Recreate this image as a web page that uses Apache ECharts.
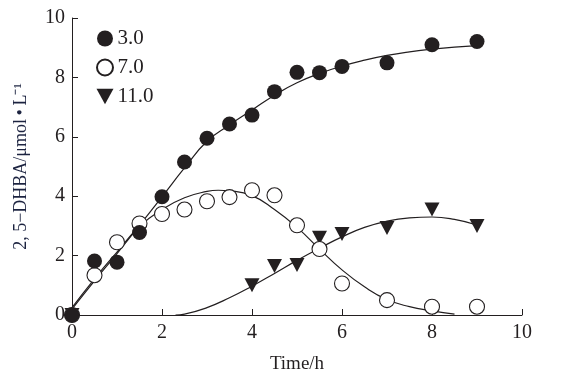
<!DOCTYPE html>
<html>
<head>
<meta charset="utf-8">
<script src="https://cdn.jsdelivr.net/npm/echarts@6/dist/echarts.min.js"></script>
<style>html,body{margin:0;padding:0;background:#fff;}#c{width:570px;height:380px;}</style>
</head>
<body>
<div id="c"></div>
<script>
// Measured data points
const timeH = [0, 0.5, 1, 1.5, 2, 2.5, 3, 3.5, 4, 4.5, 5, 5.5, 6, 7, 8, 9];
const ph3 = [0, 1.82, 1.78, 2.78, 3.98, 5.15, 5.95, 6.43, 6.73, 7.52, 8.17, 8.16, 8.37, 8.49, 9.1, 9.21];
const ph7 = [0, 1.34, 2.45, 3.08, 3.4, 3.55, 3.83, 3.97, 4.2, 4.03, 3.02, 2.22, 1.06, 0.5, 0.28, 0.28];
const timeH11 = [0, 4, 4.5, 5, 5.5, 6, 7, 8, 9];
const ph11 = [0, 1.0, 1.65, 1.68, 2.6, 2.73, 2.93, 3.55, 3.0];

// Fitted curves
const fitT3 = [0, 0.5, 1, 1.5, 2, 2.5, 3, 3.5, 4, 4.5, 5, 5.5, 6, 6.5, 7, 7.5, 8, 8.5, 9];
const fit3 = [0.2, 1.15, 2.07, 3.02, 3.98, 4.95, 5.85, 6.4, 6.9, 7.4, 7.82, 8.13, 8.38, 8.58, 8.74, 8.86, 8.95, 9.02, 9.07];
const fitT7 = [0, 0.5, 1, 1.5, 2, 2.5, 3, 3.25, 3.5, 4, 4.5, 5, 5.5, 6, 6.5, 7, 7.5, 8, 8.5];
const fit7 = [0.25, 1.22, 2.12, 2.98, 3.55, 3.95, 4.16, 4.2, 4.18, 4.02, 3.55, 2.95, 2.22, 1.52, 0.95, 0.52, 0.28, 0.14, 0.03];
const fitT11 = [2.3, 2.5, 3, 3.5, 4, 4.5, 5, 5.5, 6, 6.5, 7, 7.5, 8, 8.5, 9];
const fit11 = [0, 0.03, 0.25, 0.58, 0.97, 1.4, 1.84, 2.25, 2.63, 2.95, 3.16, 3.27, 3.3, 3.22, 3.03];

const xTicks = [0, 2, 4, 6, 8, 10];
const yTicks = [0, 2, 4, 6, 8, 10];
const seriesNames = ['3.0', '7.0', '11.0'];

const zip = (a, b) => a.map((v, i) => [v, b[i]]);
const FONT = 'Liberation Serif';
const INK = '#231f20';

const chart = echarts.init(document.getElementById('c'), null, {renderer: 'canvas'});
const lineSeries = (t, v) => ({
  type: 'line', data: zip(t, v), smooth: true, showSymbol: false, symbol: 'none',
  lineStyle: {color: INK, width: 1.2}, z: 1, silent: true
});
chart.setOption({
  animation: false,
  backgroundColor: '#fff',
  grid: {left: 72, right: 48, top: 18, bottom: 65},
  legend: {
    data: seriesNames, orient: 'vertical', left: 91, top: 23,
    itemWidth: 17, itemHeight: 16, itemGap: 8,
    textStyle: {fontFamily: FONT, fontSize: 21, color: INK, lineHeight: 16, padding: [0, 0, 0, -1]}
  },
  xAxis: {
    type: 'value', min: xTicks[0], max: xTicks[xTicks.length - 1], interval: 2,
    name: 'Time/h', nameLocation: 'middle', nameGap: 40,
    nameTextStyle: {fontFamily: FONT, fontSize: 19, color: INK},
    axisLine: {lineStyle: {color: INK, width: 1}},
    axisTick: {inside: true, length: 6, lineStyle: {color: INK}},
    axisLabel: {fontFamily: FONT, fontSize: 20, color: INK, margin: 8},
    splitLine: {show: false}
  },
  yAxis: {
    type: 'value', min: yTicks[0], max: yTicks[yTicks.length - 1], interval: 2,
    name: '2, 5\u2212DHBA/\u03bcmol\u2009\u2022\u2009L\u207b\u00b9', nameLocation: 'middle', nameGap: 42,
    nameTextStyle: {fontFamily: FONT, fontSize: 18, color: '#1c2340'},
    axisLine: {show: true, lineStyle: {color: INK, width: 1}},
    axisTick: {show: true, inside: true, length: 6, lineStyle: {color: INK}},
    axisLabel: {fontFamily: FONT, fontSize: 20, color: INK, margin: 7},
    splitLine: {show: false}
  },
  series: [
    lineSeries(fitT3, fit3),
    lineSeries(fitT7, fit7),
    lineSeries(fitT11, fit11),
    {name: seriesNames[2], type: 'scatter', data: zip(timeH11, ph11), symbol: 'path://M0,0 L10,0 L5,9 Z', symbolSize: [15, 14],
      itemStyle: {color: INK, opacity: 1}, z: 3},
    {name: seriesNames[1], type: 'scatter', data: zip(timeH, ph7), symbol: 'circle', symbolSize: 15,
      itemStyle: {color: '#fff', borderColor: INK, borderWidth: 1.1, opacity: 1}, z: 4},
    {name: seriesNames[0], type: 'scatter', data: zip(timeH, ph3), symbol: 'circle', symbolSize: 15,
      itemStyle: {color: INK, opacity: 1}, z: 5}
  ]
});
</script>
</body>
</html>
